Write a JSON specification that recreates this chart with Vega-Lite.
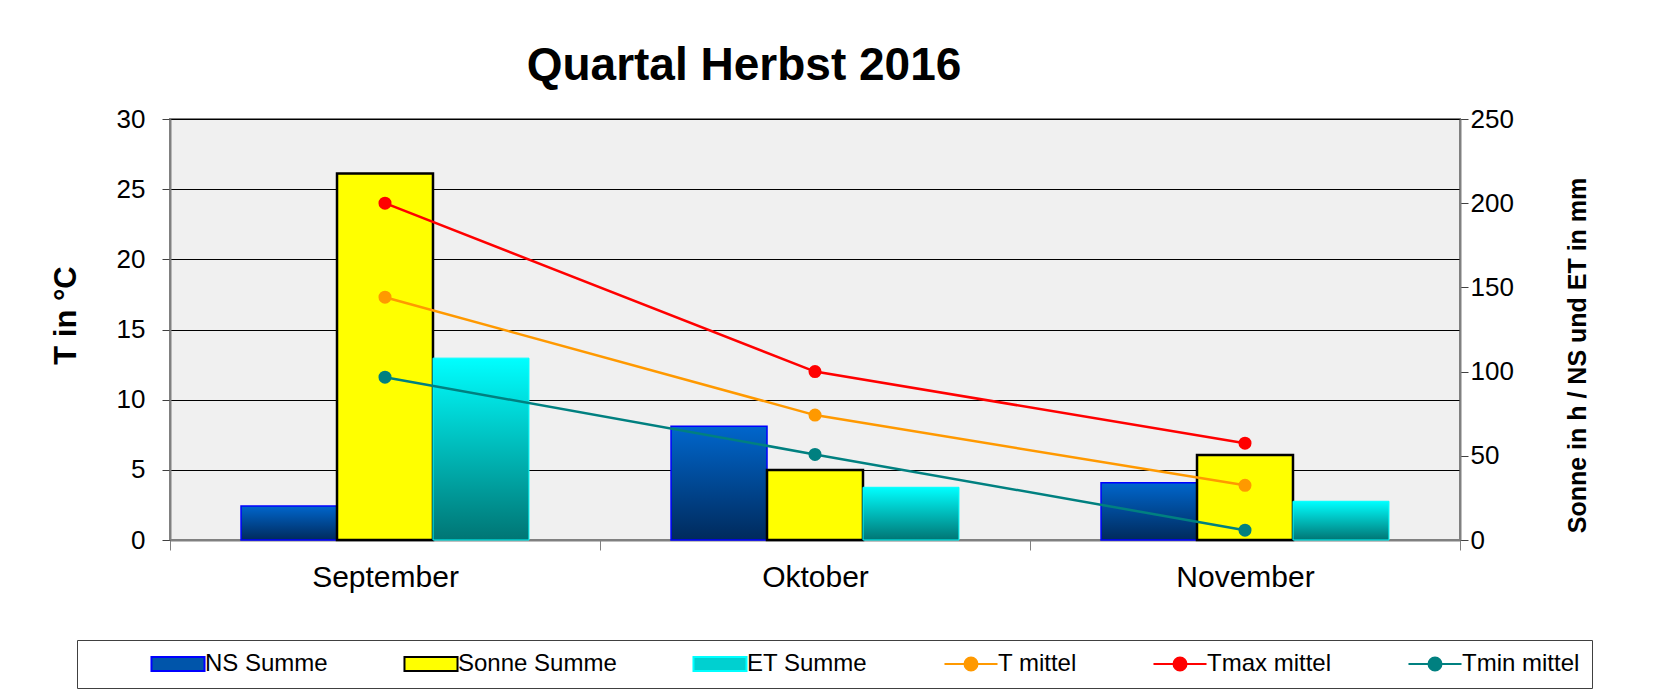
{
  "$schema": "https://vega.github.io/schema/vega-lite/v6.json",
  "width": 1290,
  "height": 421,
  "autosize": {"type": "none"},
  "padding": {"left": 170, "top": 119, "right": 210, "bottom": 156},
  "background": "white",
  "title": {
    "text": "Quartal Herbst 2016",
    "font": "Liberation Sans",
    "fontSize": 46,
    "fontWeight": "bold",
    "color": "#000000",
    "anchor": "middle",
    "dx": -71,
    "baseline": "alphabetic",
    "offset": -20
  },
  "data": {
    "values": [
      {"month": "September", "series": "NS Summe", "kind": "bar", "value": 20.2},
      {"month": "September", "series": "Sonne Summe", "kind": "bar", "value": 217.7},
      {"month": "September", "series": "ET Summe", "kind": "bar", "value": 108.0},
      {"month": "Oktober", "series": "NS Summe", "kind": "bar", "value": 67.5},
      {"month": "Oktober", "series": "Sonne Summe", "kind": "bar", "value": 41.6},
      {"month": "Oktober", "series": "ET Summe", "kind": "bar", "value": 31.3},
      {"month": "November", "series": "NS Summe", "kind": "bar", "value": 34.0},
      {"month": "November", "series": "Sonne Summe", "kind": "bar", "value": 50.5},
      {"month": "November", "series": "ET Summe", "kind": "bar", "value": 23.0},
      {"month": "September", "series": "T mittel", "kind": "temp", "value": 17.3},
      {"month": "Oktober", "series": "T mittel", "kind": "temp", "value": 8.9},
      {"month": "November", "series": "T mittel", "kind": "temp", "value": 3.9},
      {"month": "September", "series": "Tmax mittel", "kind": "temp", "value": 24.0},
      {"month": "Oktober", "series": "Tmax mittel", "kind": "temp", "value": 12.0},
      {"month": "November", "series": "Tmax mittel", "kind": "temp", "value": 6.9},
      {"month": "September", "series": "Tmin mittel", "kind": "temp", "value": 11.6},
      {"month": "Oktober", "series": "Tmin mittel", "kind": "temp", "value": 6.1},
      {"month": "November", "series": "Tmin mittel", "kind": "temp", "value": 0.7}
    ]
  },
  "config": {
    "font": "Liberation Sans",
    "view": {"fill": "#f0f0f0", "stroke": "#808080", "strokeWidth": 2},
    "axis": {
      "labelFont": "Liberation Sans",
      "labelColor": "#000000",
      "titleFont": "Liberation Sans",
      "titleColor": "#000000",
      "domainColor": "#808080",
      "domainWidth": 2,
      "tickColor": "#404040",
      "tickWidth": 1
    },
    "legend": {
      "labelFont": "Liberation Sans",
      "labelFontSize": 24,
      "labelColor": "#000000",
      "labelLimit": 400,
      "orient": "none",
      "legendX": -93,
      "legendY": 521,
      "direction": "horizontal",
      "padding": 12,
      "strokeColor": "#404040",
      "fillColor": "#ffffff",
      "symbolSize": 169,
      "symbolStrokeWidth": 2,
      "symbolOffset": 77,
      "labelOffset": 15,
      "columnPadding": 14
    }
  },
  "encoding": {
    "x": {
      "field": "month",
      "type": "nominal",
      "sort": ["September", "Oktober", "November"],
      "scale": {"paddingInner": 0, "paddingOuter": 0},
      "axis": {
        "title": null,
        "orient": "bottom",
        "labelAngle": 0,
        "labelFontSize": 30,
        "labelPadding": 12,
        "tickSize": 10,
        "tickBand": "extent",
        "tickColor": "#808080",
        "grid": false
      }
    }
  },
  "layer": [
    {
      "transform": [{"filter": "datum.kind == 'bar'"}],
      "encoding": {
        "xOffset": {
          "field": "series",
          "type": "nominal",
          "sort": ["NS Summe", "Sonne Summe", "ET Summe"],
          "scale": {"domain": ["NS Summe", "Sonne Summe", "ET Summe"], "paddingInner": 0, "paddingOuter": 0.74}
        },
        "y": {
          "field": "value",
          "type": "quantitative",
          "scale": {"domain": [0, 250]},
          "axis": {
            "orient": "right",
            "values": [0, 50, 100, 150, 200, 250],
            "grid": false,
            "labelFontSize": 26,
            "labelPadding": 2,
            "tickSize": 8,
            "title": "Sonne in h / NS und ET in mm",
            "titleFontSize": 25,
            "titleFontWeight": "bold",
            "titleAngle": 270,
            "titleAlign": "center",
            "titleBaseline": "middle",
            "titleX": 117,
            "titleY": 236
          }
        },
        "stroke": {
          "field": "series",
          "type": "nominal",
          "scale": {
            "domain": ["NS Summe", "Sonne Summe", "ET Summe", "T mittel", "Tmax mittel", "Tmin mittel"],
            "range": ["#0000ff", "#000000", "#00ffff", "#ff9900", "#ff0000", "#008080"]
          },
          "legend": {
            "title": null,
            "symbolType": {"expr": "indexof(['T mittel','Tmax mittel','Tmin mittel'], datum.value) >= 0 ? 'M-4.08,0H4.08M1,0A1,1 0 1 1 -1,0A1,1 0 1 1 1,0Z' : 'M-4.08,-1.08H4.08V1.08H-4.08Z'"}
          }
        }
      },
      "layer": [
        {
          "transform": [{"filter": "datum.series == 'NS Summe'"}],
          "mark": {
            "type": "bar",
            "strokeWidth": 1.5,
            "fill": {"gradient": "linear", "x1": 0, "y1": 0, "x2": 0, "y2": 1, "stops": [{"offset": 0, "color": "#0066cc"}, {"offset": 1, "color": "#002a5c"}]}
          }
        },
        {
          "transform": [{"filter": "datum.series == 'Sonne Summe'"}],
          "mark": {"type": "bar", "strokeWidth": 2.5, "fill": "#ffff00"}
        },
        {
          "transform": [{"filter": "datum.series == 'ET Summe'"}],
          "mark": {
            "type": "bar",
            "strokeWidth": 1,
            "fill": {"gradient": "linear", "x1": 0, "y1": 0, "x2": 0, "y2": 1, "stops": [{"offset": 0, "color": "#00ffff"}, {"offset": 1, "color": "#007574"}]}
          }
        }
      ]
    },
    {
      "transform": [{"filter": "datum.kind == 'temp'"}],
      "encoding": {
        "y": {
          "field": "value",
          "type": "quantitative",
          "scale": {"domain": [0, 30]},
          "axis": {
            "orient": "left",
            "values": [0, 5, 10, 15, 20, 25, 30],
            "grid": true,
            "gridColor": "#000000",
            "gridWidth": 1,
            "labelFontSize": 26,
            "labelPadding": 17,
            "tickSize": 8,
            "title": "T in °C",
            "titleFontSize": 31,
            "titleFontWeight": "bold",
            "titleAngle": 270,
            "titleAlign": "center",
            "titleBaseline": "middle",
            "titleX": -104,
            "titleY": 196
          }
        }
      },
      "layer": [
        {
          "mark": {"type": "line", "strokeWidth": 2.5},
          "encoding": {"stroke": {"field": "series", "type": "nominal"}}
        },
        {
          "mark": {"type": "point", "filled": true, "size": 170, "opacity": 1},
          "encoding": {
            "fill": {
              "field": "series",
              "type": "nominal",
              "scale": {
                "domain": ["NS Summe", "Sonne Summe", "ET Summe", "T mittel", "Tmax mittel", "Tmin mittel"],
                "range": ["#0055aa", "#ffff00", "#00d0d0", "#ff9900", "#ff0000", "#008080"]
              },
              "legend": {
                "title": null,
                "symbolType": {"expr": "indexof(['T mittel','Tmax mittel','Tmin mittel'], datum.value) >= 0 ? 'M-4.08,0H4.08M1,0A1,1 0 1 1 -1,0A1,1 0 1 1 1,0Z' : 'M-4.08,-1.08H4.08V1.08H-4.08Z'"}
              }
            }
          }
        }
      ]
    }
  ],
  "resolve": {"scale": {"y": "independent"}}
}
